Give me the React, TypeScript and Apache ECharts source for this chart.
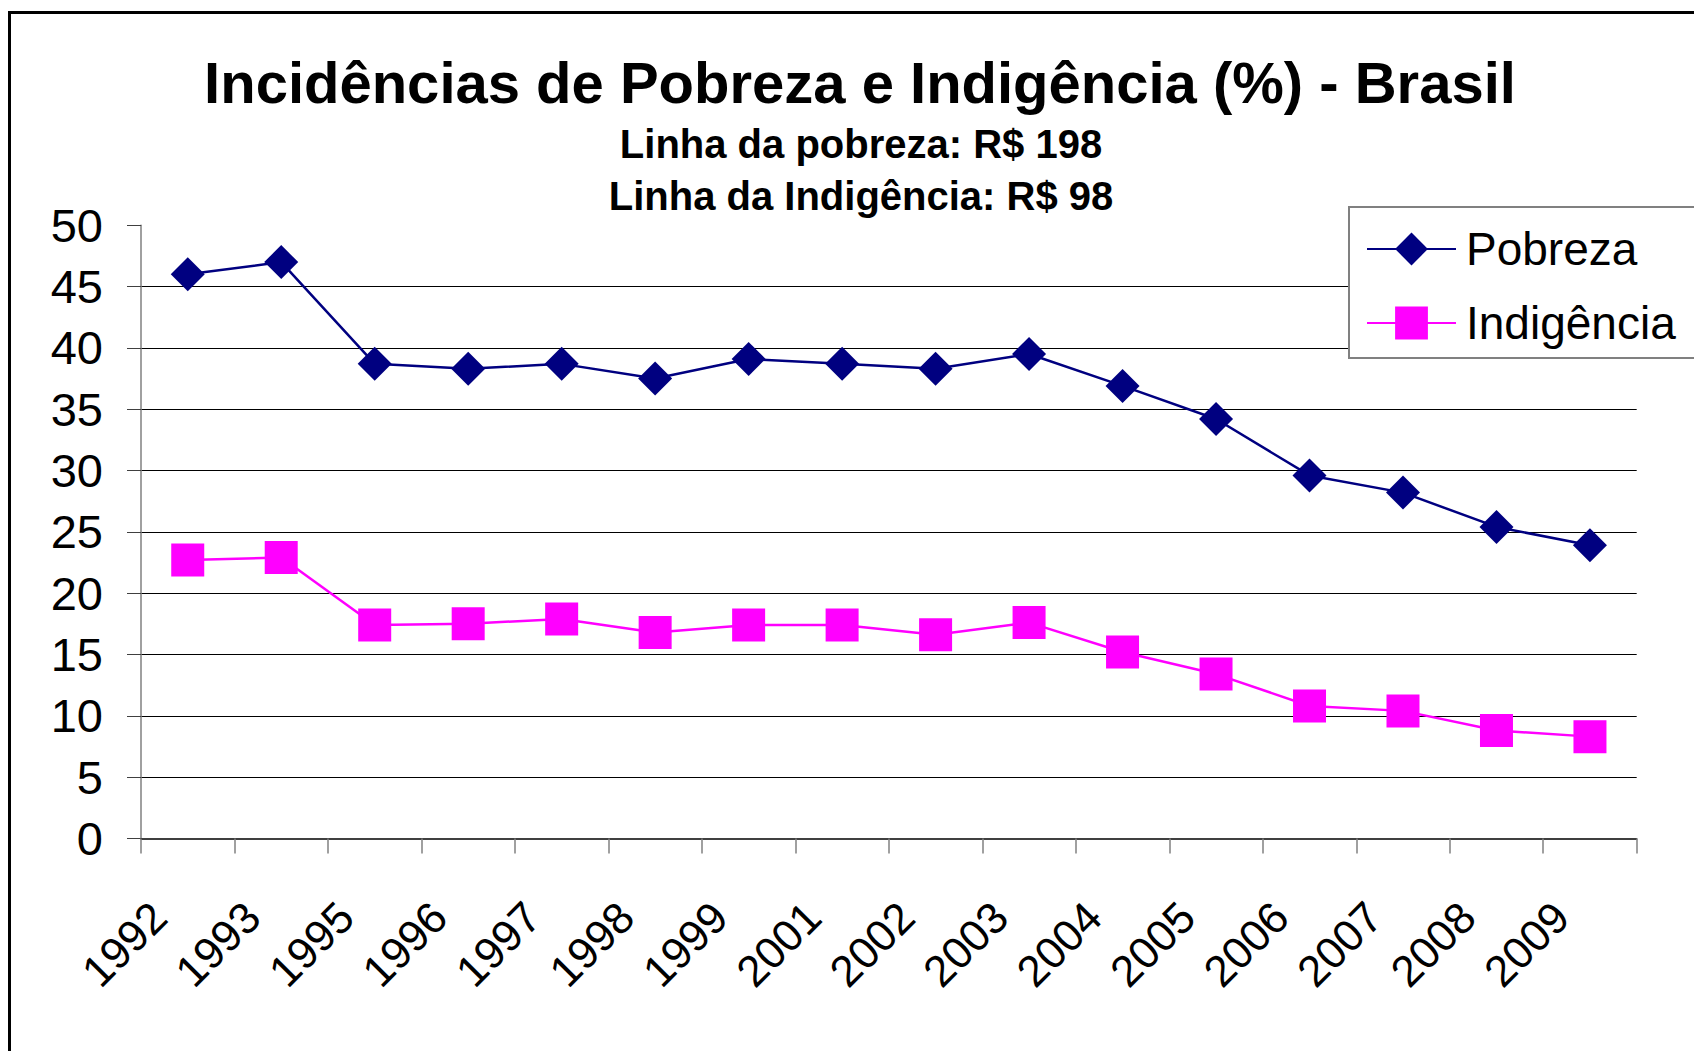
import React, { useEffect, useRef } from "react";
import * as echarts from "echarts";

const years = ["1992", "1993", "1995", "1996", "1997", "1998", "1999", "2001", "2002", "2003", "2004", "2005", "2006", "2007", "2008", "2009"];
const pobreza = [46.0, 47.0, 38.7, 38.3, 38.7, 37.5, 39.1, 38.7, 38.3, 39.5, 36.9, 34.2, 29.6, 28.2, 25.4, 23.9];
const indigencia = [22.7, 22.9, 17.4, 17.5, 17.9, 16.8, 17.4, 17.4, 16.6, 17.6, 15.2, 13.4, 10.8, 10.4, 8.8, 8.3];
const titleText = "Incidências de Pobreza e Indigência (%) - Brasil";
const subtitle1 = "Linha da pobreza: R$ 198";
const subtitle2 = "Linha da Indigência: R$ 98";

const FONT = "'Liberation Sans', Arial, sans-serif";

export default function App() {
  const ref = useRef<HTMLDivElement>(null);
  useEffect(() => {
    if (!ref.current) return;
    const chart = echarts.init(ref.current, undefined, { renderer: "svg" });
    chart.setOption({
      animation: false,
      backgroundColor: "#ffffff",
      graphic: [
        {
          type: "rect",
          shape: { x: 9.5, y: 12.5, width: 1720, height: 1100 },
          style: { fill: "none", stroke: "#000", lineWidth: 3 },
          silent: true,
        },
        {
          type: "text",
          x: 860,
          y: 82.5,
          style: {
            text: titleText,
            font: `bold 58px ${FONT}`,
            fill: "#000",
            align: "center",
            verticalAlign: "middle",
          },
        },
        {
          type: "text",
          x: 861,
          y: 143.5,
          style: {
            text: subtitle1,
            font: `bold 40px ${FONT}`,
            fill: "#000",
            align: "center",
            verticalAlign: "middle",
          },
        },
        {
          type: "text",
          x: 861,
          y: 196,
          style: {
            text: subtitle2,
            font: `bold 40px ${FONT}`,
            fill: "#000",
            align: "center",
            verticalAlign: "middle",
          },
        },
      ],
      legend: {
        orient: "vertical",
        left: 1349,
        top: 207,
        padding: [19, 40, 12, 17],
        itemWidth: 89,
        itemHeight: 41,
        itemGap: 28,
        borderColor: "#808080",
        borderWidth: 2,
        backgroundColor: "#fff",
        textStyle: { fontSize: 46, fontFamily: FONT, color: "#000", padding: [0, 0, 0, 5] },
        data: ["Pobreza", "Indigência"],
      },
      grid: { left: 141, right: 57.3, top: 225.3, bottom: 212.6, containLabel: false },
      xAxis: {
        type: "category",
        data: years,
        boundaryGap: true,
        axisLine: { show: true, lineStyle: { color: "#000", width: 1.5 } },
        axisTick: { show: true, length: 15, inside: false, lineStyle: { color: "#808080", width: 1.5 } },
        axisLabel: {
          rotate: 45,
          fontSize: 44,
          fontFamily: FONT,
          color: "#000",
          margin: 42,
          padding: [0, 41, 0, 0],
          interval: 0,
        },
        splitLine: { show: false },
      },
      yAxis: {
        type: "value",
        min: 0,
        max: 50,
        interval: 5,
        axisLine: { show: true, lineStyle: { color: "#808080", width: 1.5 } },
        axisTick: { show: true, length: 14, inside: false, lineStyle: { color: "#404040", width: 1 } },
        axisLabel: { fontSize: 47, fontFamily: FONT, color: "#000", margin: 38 },
        splitLine: { show: true, showMaxLine: false, showMinLine: false, lineStyle: { color: "#000", width: 1 } },
      },
      series: [
        {
          name: "Pobreza",
          type: "line",
          data: pobreza,
          symbol: "diamond",
          symbolSize: 34,
          color: "#000080",
          lineStyle: { color: "#000080", width: 2.5 },
          itemStyle: { color: "#000080" },
        },
        {
          name: "Indigência",
          type: "line",
          data: indigencia,
          symbol: "rect",
          symbolSize: 33,
          color: "#FF00FF",
          lineStyle: { color: "#FF00FF", width: 2.5 },
          itemStyle: { color: "#FF00FF" },
        },
      ],
    });
    return () => chart.dispose();
  }, []);
  return (
    <div
      ref={ref}
      style={{ position: "absolute", left: 0, top: 0, width: 1694, height: 1051 }}
    />
  );
}
